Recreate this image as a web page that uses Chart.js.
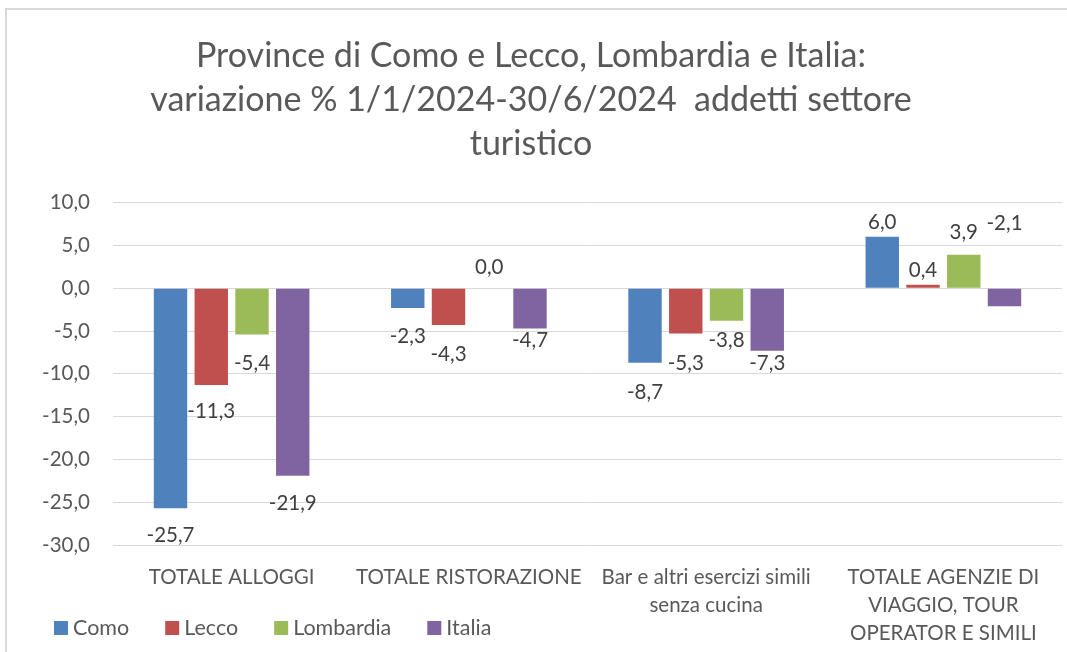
<!DOCTYPE html>
<html lang="it">
<head>
<meta charset="utf-8">
<title>Addetti settore turistico</title>
<script src="https://cdn.jsdelivr.net/npm/chart.js@4"></script>
<style>
  html, body { margin: 0; padding: 0; background: #fff; }
  #wrap { position: relative; width: 1067px; height: 652px; }
</style>
</head>
<body>
<div id="wrap"><canvas id="chart"></canvas></div>
<script>
const categories = [
  'TOTALE ALLOGGI',
  'TOTALE RISTORAZIONE',
  ['Bar e altri esercizi simili', 'senza cucina'],
  ['TOTALE AGENZIE DI', 'VIAGGIO, TOUR', 'OPERATOR E SIMILI'],
];
const como      = [-25.7, -2.3, -8.7, 6.0];
const lecco     = [-11.3, -4.3, -5.3, 0.4];
const lombardia = [-5.4, 0.0, -3.8, 3.9];
const italia    = [-21.9, -4.7, -7.3, -2.1];
const titleLines = [
  'Province di Como e Lecco, Lombardia e Italia:',
  'variazione % 1/1/2024-30/6/2024  addetti settore',
  'turistico',
];

// distance (px) of each value label from the end of its bar, as placed in the original
const labelGap = {
  Como:      [27, 29, 30, 14],
  Lecco:     [26, 29, 30, 14],
  Lombardia: [29, 21, 20, 22],
  Italia:    [28, 12, 13, -83],
};

const FONT = 'Lato, "Open Sans", sans-serif';
const fmt = v => v.toFixed(1).replace('.', ',');

const frame = {
  id: 'frame',
  beforeDraw(chart) {
    const c = chart.ctx;
    c.save();
    c.fillStyle = '#fff';
    c.fillRect(0, 0, chart.width, chart.height);
    c.strokeStyle = '#d9d9d9';
    c.lineWidth = 2;
    c.beginPath();
    c.moveTo(6, chart.height);
    c.lineTo(6, 9);
    c.lineTo(chart.width, 9);
    c.stroke();
    c.restore();
  },
};

const valueLabels = {
  id: 'valueLabels',
  afterDatasetsDraw(chart) {
    const c = chart.ctx;
    c.save();
    c.font = '20.5px ' + FONT;
    c.fillStyle = '#404040';
    c.textAlign = 'center';
    c.textBaseline = 'middle';
    chart.data.datasets.forEach((ds, di) => {
      chart.getDatasetMeta(di).data.forEach((bar, i) => {
        const v = ds.data[i];
        const gap = labelGap[ds.label][i];
        const y = v < 0 ? bar.y + gap : bar.y - gap;
        c.fillText(fmt(v), bar.x, y);
      });
    });
    c.restore();
  },
};

const bottomLegend = {
  id: 'bottomLegend',
  afterDraw(chart) {
    const c = chart.ctx;
    c.save();
    c.font = '21.5px ' + FONT;
    c.textBaseline = 'middle';
    let x = 54;
    const y = 628;
    chart.data.datasets.forEach(ds => {
      c.fillStyle = ds.backgroundColor;
      c.fillRect(x, y - 7, 14, 14);
      x += 19;
      c.fillStyle = '#595959';
      c.fillText(ds.label, x, y);
      x += c.measureText(ds.label).width + 36;
    });
    c.restore();
  },
};

new Chart(document.getElementById('chart'), {
  type: 'bar',
  data: {
    labels: categories,
    datasets: [
      { label: 'Como',      data: como,      backgroundColor: '#4F81BD' },
      { label: 'Lecco',     data: lecco,     backgroundColor: '#C0504D' },
      { label: 'Lombardia', data: lombardia, backgroundColor: '#9BBB59' },
      { label: 'Italia',    data: italia,    backgroundColor: '#8064A2' },
    ],
  },
  options: {
    responsive: true, maintainAspectRatio: false,
    animation: false,
    layout: { padding: { left: 0, right: 5, top: 0, bottom: 0 } },
    datasets: { bar: { categoryPercentage: 0.687, barPercentage: 0.82 } },
    plugins: {
      legend: { display: false },
      tooltip: { enabled: false },
      title: {
        display: true,
        text: titleLines,
        color: '#595959',
        font: { family: FONT, size: 34, weight: 'normal', lineHeight: 1.3 },
        padding: { top: 34, bottom: 36 },
      },
    },
    scales: {
      x: {
        grid: { display: false, drawTicks: false },
        border: { display: false },
        ticks: {
          color: '#595959', maxRotation: 0, autoSkip: false, padding: 18,
          font: { family: FONT, size: 20.5, lineHeight: 1.37 },
        },
        afterFit(s) { s.height = 107; },
      },
      y: {
        min: -30, max: 10,
        border: { display: false },
        grid: { color: '#d9d9d9', lineWidth: 1, drawTicks: false },
        ticks: {
          stepSize: 5, color: '#595959', padding: 23,
          font: { family: FONT, size: 20.5 },
          callback: v => fmt(v),
        },
        afterFit(s) { s.width = 113; },
      },
    },
  },
  plugins: [frame, valueLabels, bottomLegend],
});
</script>
</body>
</html>
